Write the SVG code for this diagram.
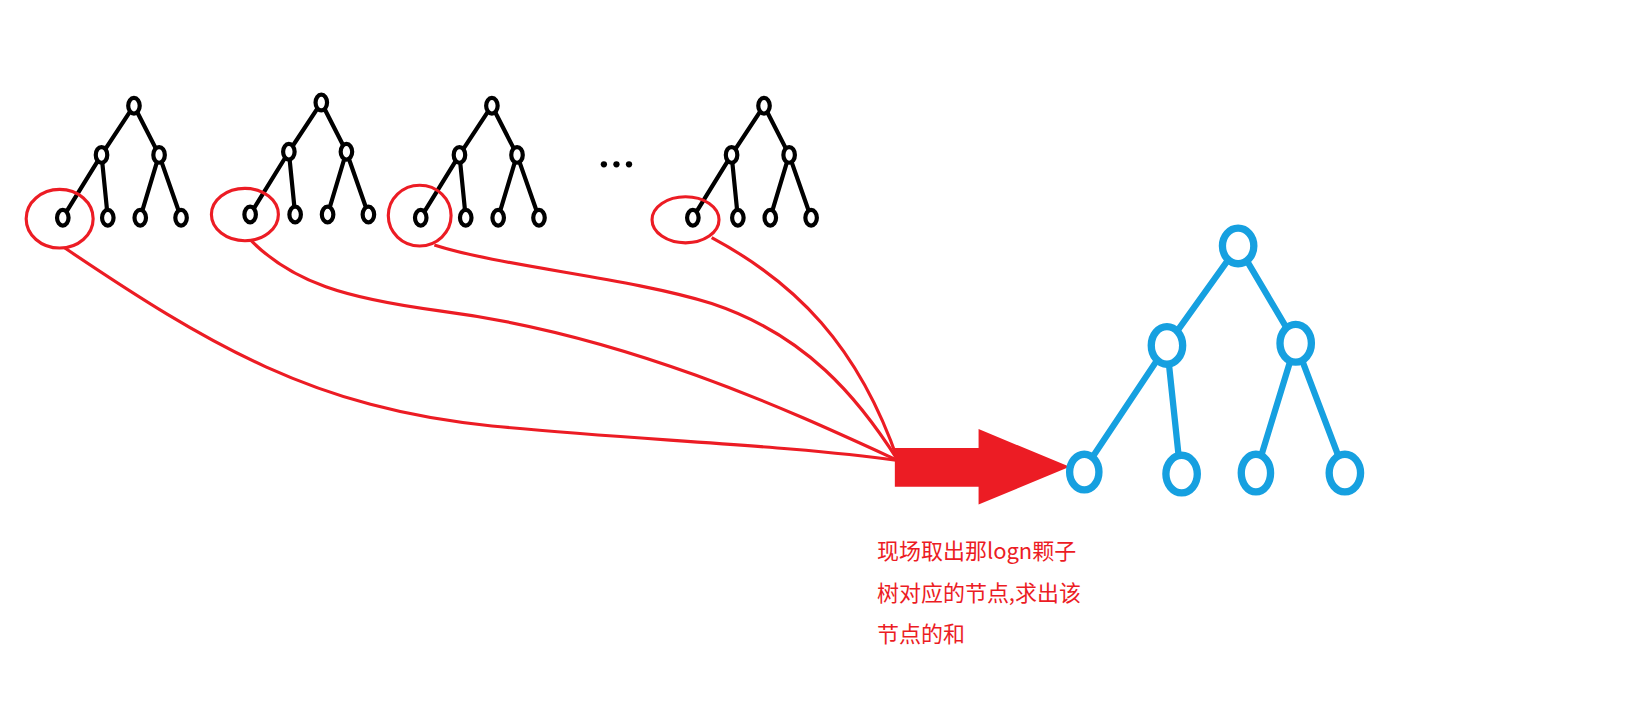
<svg xmlns="http://www.w3.org/2000/svg" width="1641" height="725" viewBox="0 0 1641 725">
<style>
.bn{fill:#fff;stroke:#000;stroke-width:4}
.bl{stroke:#000;stroke-width:4;fill:none}
.rc{fill:none;stroke:#ec1c24;stroke-width:3}
.cn{fill:none;stroke:#ec1c24;stroke-width:3}
.qn{fill:#fff;stroke:#16a0e0;stroke-width:7}
.ql{stroke:#16a0e0;stroke-width:6;fill:none}
.t{font-family:"Microsoft YaHei","Noto Sans CJK SC",sans-serif;font-size:21px;fill:#ec1c24}
</style>
<defs>
<g id="tree">
<path class="bl" d="M0,0 L-31,47 M0,0 L24,47 M-31,47 L-68,107 M-31,47 L-25,107 M24,47 L6,107 M24,47 L45,107"/>
<ellipse class="bn" cx="0" cy="0" rx="5.5" ry="7.5"/>
<ellipse class="bn" cx="-31" cy="47" rx="5.5" ry="7.5"/>
<ellipse class="bn" cx="24" cy="47" rx="5.5" ry="7.5"/>
<ellipse class="bn" cx="-68" cy="107" rx="5.5" ry="7.5"/>
<ellipse class="bn" cx="-25" cy="107" rx="5.5" ry="7.5"/>
<ellipse class="bn" cx="6" cy="107" rx="5.5" ry="7.5"/>
<ellipse class="bn" cx="45" cy="107" rx="5.5" ry="7.5"/>
</g>
</defs>
<rect width="1641" height="725" fill="#fff"/>
<g transform="scale(1.0466)">
<g id="tree1"><use href="#tree" x="128" y="101"/></g>
<g id="tree2"><use href="#tree" x="307" y="98"/></g>
<g id="tree3"><use href="#tree" x="470" y="101"/></g>
<g id="tree4"><use href="#tree" x="730" y="101"/></g>
<g id="dots" fill="#000"><circle cx="577" cy="157" r="3"/><circle cx="589" cy="157" r="3"/><circle cx="601" cy="157" r="3"/></g>
<g id="marks">
<ellipse class="rc" cx="57" cy="209" rx="32" ry="28"/>
<ellipse class="rc" cx="234" cy="205" rx="32" ry="25"/>
<ellipse class="rc" cx="401" cy="206" rx="30" ry="29"/>
<ellipse class="rc" cx="655" cy="210" rx="32" ry="22"/>
</g>
<g id="connectors">
<path class="cn" d="M62,237 C200,330 300,390 470,407 C600,420 750,425 858,440"/>
<path class="cn" d="M240,230 C280,270 330,285 420,297 C600,320 760,395 858,440"/>
<path class="cn" d="M415,234 C480,255 600,265 680,290 C770,320 820,380 858,440"/>
<path class="cn" d="M680,227 C760,270 820,330 858,440"/>
<path d="M855,428 H935 V410 L1022,446 L935,482 V465 H855 Z" fill="#ec1c24"/>
</g>
<g id="bigtree">
<path class="ql" d="M1183,235 L1115,330 M1183,235 L1238,328 M1115,330 L1035,450 M1115,330 L1128,453 M1238,328 L1200,452 M1238,328 L1285,452"/>
<ellipse class="qn" cx="1183" cy="235" rx="15" ry="17"/>
<ellipse class="qn" cx="1115" cy="330" rx="15" ry="18"/>
<ellipse class="qn" cx="1238" cy="328" rx="15" ry="18"/>
<ellipse class="qn" cx="1036" cy="451" rx="14" ry="17"/>
<ellipse class="qn" cx="1129" cy="453" rx="15" ry="18"/>
<ellipse class="qn" cx="1200" cy="452" rx="14" ry="18"/>
<ellipse class="qn" cx="1285" cy="452" rx="15" ry="18"/>
</g>
<g id="label">
<text class="t" x="838" y="534">现场取出那logn颗子</text>
<text class="t" x="838" y="574">树对应的节点,求出该</text>
<text class="t" x="838" y="613">节点的和</text>
</g>
</g>
</svg>
